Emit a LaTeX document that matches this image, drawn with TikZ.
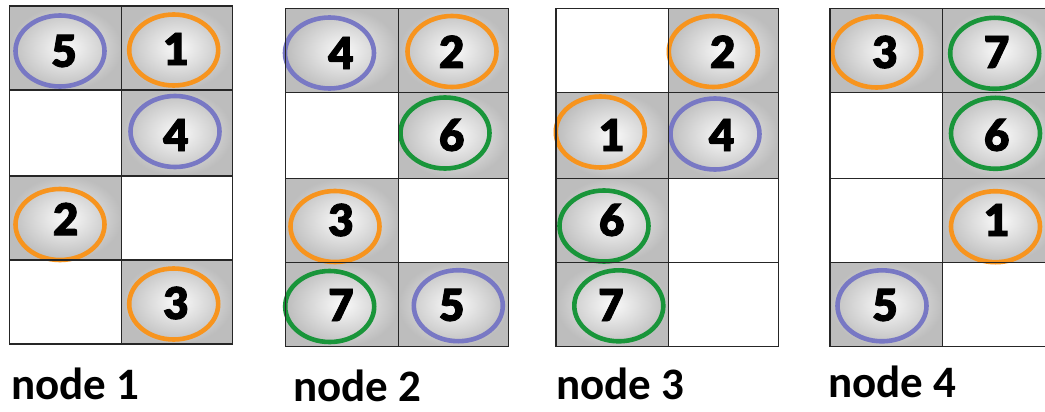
\documentclass[tikz,border=0pt]{standalone}
\usepackage{fontspec}
\setmainfont{Carlito}
\newfontfamily\digitfont[UprightFont={* Black}, FakeBold=2]{Lato}
\newfontfamily\labelfont{Carlito}
\usetikzlibrary{shapes.geometric}
\definecolor{ringpurple}{HTML}{7878C4}
\definecolor{ringorange}{HTML}{F7941E}
\definecolor{ringgreen}{HTML}{19953A}
\tikzset{
  gridline/.style={draw=black!85, line width=1.4pt},
  ring/.style={ellipse, line width=4.6pt, minimum width=89pt, minimum height=71pt, inner sep=0pt},
  num/.style={font=\digitfont\fontsize{44}{44}\selectfont, inner sep=0pt, text=black},
  caption/.style={font=\labelfont\bfseries\fontsize{45}{45}\selectfont, anchor=base west, inner sep=0pt, text=black}
}
\newcommand\shadecell[4]{\shade[inner color=black!2, outer color=black!26] (#1,#2) rectangle (#3,#4);}
\newcommand\token[7]{%
  \node[ring, draw=#4] (#1r) at (#2,#3) {};
  \node[num] (#1) at (#5,#6) {#7};}
\newcommand\gridlines[7]{%
  \draw[gridline] (#1,#4) rectangle (#3,#7);
  \draw[gridline] (#2,#4) -- (#2,#7);
  \draw[gridline] (#1,#5) -- (#3,#5);
  \draw[gridline] (#1,#6) -- (#3,#6);}
\begin{document}
\begin{tikzpicture}[x=1pt,y=-1pt]
\useasboundingbox (0,0) rectangle (1045,412);
\fill[white] (0,0) rectangle (1045,412);
% ---------- grid 1 ----------
\shadecell{9.3}{6}{121.7}{90}
\shadecell{121.7}{6}{232.7}{90}
\shadecell{121.7}{90}{232.7}{176}
\shadecell{9.3}{176}{121.7}{260}
\shadecell{121.7}{260}{232.7}{344}
\token{a5}{60}{51}{ringpurple}{64}{51}{5}
\token{a1}{173.7}{50}{ringorange}{176}{49}{1}
\token{a4}{175}{131.5}{ringpurple}{176}{135}{4}
\token{a2}{60}{224.5}{ringorange}{65.7}{219}{2}
\token{a3}{173.7}{304}{ringorange}{176}{303}{3}
\gridlines{9.3}{121.7}{232.7}{6}{90}{176}{260}
\draw[gridline] (9.3,260) -- (9.3,344) -- (232.7,344) -- (232.7,260);
\draw[gridline] (121.7,260) -- (121.7,344);
% ---------- grid 2 ----------
\shadecell{285.7}{8.3}{398.3}{92.7}
\shadecell{398.3}{8.3}{508.3}{92.7}
\shadecell{398.3}{92.7}{508.3}{178.3}
\shadecell{285.7}{178.3}{398.3}{262.7}
\shadecell{285.7}{262.7}{398.3}{346.7}
\shadecell{398.3}{262.7}{508.3}{346.7}
\token{b4}{329.5}{53}{ringpurple}{341}{53}{4}
\token{b2}{452}{51.5}{ringorange}{451.7}{51.7}{2}
\token{b6}{445}{133}{ringgreen}{451.7}{135}{6}
\token{b3}{335}{226.5}{ringorange}{341}{220}{3}
\token{b7}{329.7}{306.5}{ringgreen}{341}{305}{7}
\token{b5}{458.3}{305.7}{ringpurple}{451.7}{305}{5}
\gridlines{285.7}{398.3}{508.3}{8.3}{92.7}{178.3}{262.7}
\draw[gridline] (285.7,262.7) -- (285.7,346.7) -- (508.3,346.7) -- (508.3,262.7);
\draw[gridline] (398.3,262.7) -- (398.3,346.7);
% ---------- grid 3 ----------
\shadecell{668.3}{8.3}{778.3}{92.7}
\shadecell{556}{92.7}{668.3}{178.3}
\shadecell{668.3}{92.7}{778.3}{178.3}
\shadecell{556}{178.3}{668.3}{262.7}
\shadecell{556}{262.7}{668.3}{346.7}
\token{c2}{713.3}{51.5}{ringorange}{722.7}{51.7}{2}
\token{c1}{600.3}{132}{ringorange}{611.7}{135}{1}
\token{c4}{715}{134}{ringpurple}{721.7}{135}{4}
\token{c6}{604}{226}{ringgreen}{611.7}{220}{6}
\token{c7}{618.8}{305.8}{ringgreen}{611}{305}{7}
\gridlines{556}{668.3}{778.3}{8.3}{92.7}{178.3}{262.7}
\draw[gridline] (556,262.7) -- (556,346.7) -- (778.3,346.7) -- (778.3,262.7);
\draw[gridline] (668.3,262.7) -- (668.3,346.7);
% ---------- grid 4 ----------
\shadecell{830}{8.3}{942.7}{92.7}
\shadecell{942.7}{8.3}{1055}{92.7}
\shadecell{942.7}{92.7}{1055}{178.3}
\shadecell{942.7}{178.3}{1055}{262.7}
\shadecell{830}{262.7}{942.7}{346.7}
\token{d3}{876.7}{52}{ringorange}{885}{52}{3}
\token{d7}{994.7}{53.3}{ringgreen}{996.7}{52}{7}
\token{d6}{995.5}{133.3}{ringgreen}{996.7}{135}{6}
\token{d1}{995.5}{226.7}{ringorange}{996.7}{220}{1}
\token{d5}{882}{305.8}{ringpurple}{885}{305}{5}
\gridlines{830}{942.7}{1055}{8.3}{92.7}{178.3}{262.7}
\draw[gridline] (830,262.7) -- (830,346.7) -- (1055,346.7) -- (1055,262.7);
\draw[gridline] (942.7,262.7) -- (942.7,346.7);
% ---------- captions ----------
\node[caption] (cap1) at (11,399) {node 1};
\node[caption] (cap2) at (293,401) {node 2};
\node[caption] (cap3) at (556,399) {node 3};
\node[caption] (cap4) at (828,397) {node 4};
\end{tikzpicture}
\end{document}
